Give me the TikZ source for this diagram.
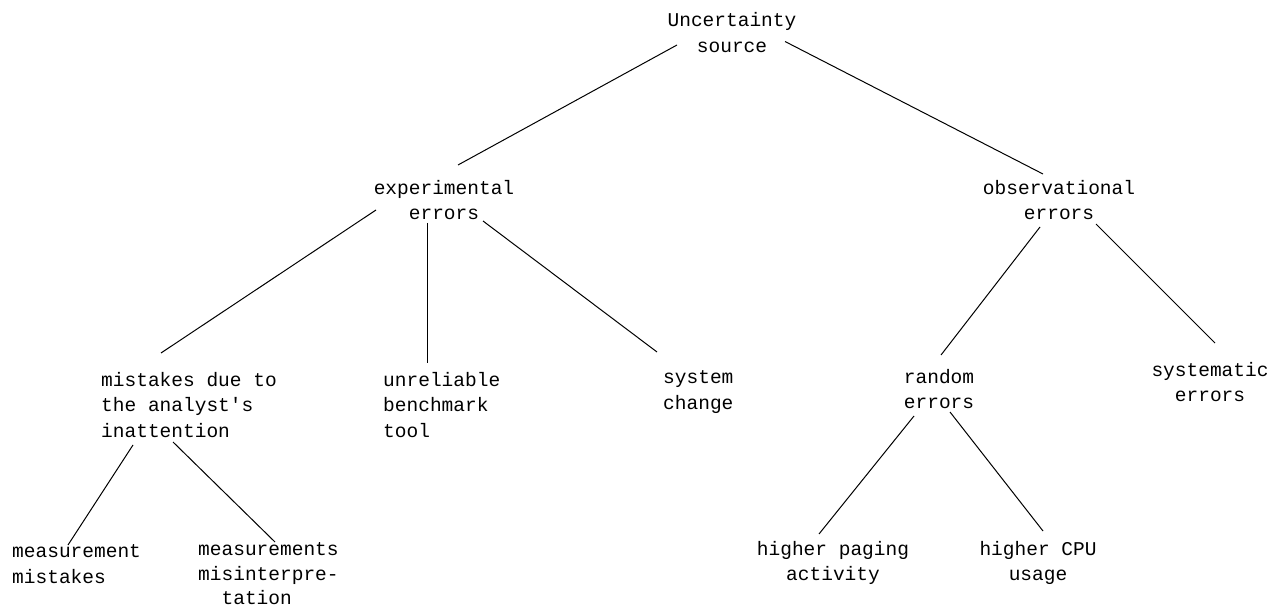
\documentclass[tikz,border=0pt]{standalone}
\usepackage{fontspec}
\setmainfont{Liberation Mono}
\usetikzlibrary{calc}
\begin{document}
\begin{tikzpicture}[x=1pt,y=-1pt,
  lbl/.style={inner sep=0pt, font=\fontsize{19.5}{25.5}\selectfont},
  lblc/.style={lbl, align=center, anchor=center},
  lbll/.style={lbl, align=left, anchor=west},
  edge/.style={draw=black, line width=1pt}]
\useasboundingbox (0,0) rectangle (1282,609);
\fill[white] (0,0) rectangle (1282,609);
% nodes
\node[lblc] (root) at (732,32.5) {Uncertainty\\source};
\node[lblc] (exp) at (444,200) {experimental\\errors};
\node[lblc] (obs) at (1059,200) {observational\\errors};
\node[lbll] (mis) at (101,405) {mistakes due to\\the analyst\textquotesingle s\\inattention};
\node[lbll] (unr) at (383,405) {unreliable\\benchmark\\tool};
\node[lbll] (sch) at (663,392) {system\\change};
\node[lblc] (rnd) at (939,389) {random\\errors};
\node[lblc] (sys) at (1210,382) {systematic\\errors};
\node[lbll] (mm) at (12,564) {measurement\\mistakes};
\node[lbll, font=\fontsize{19.5}{24.5}\selectfont] (ms) at (198,574) {measurements\\misinterpre-\\\phantom{mi}tation};
\node[lblc] (pag) at (833,563) {higher paging\\activity};
\node[lblc] (cpu) at (1038,563) {higher CPU\\usage};
% connectors
\draw[edge] ($(root)+(-55,12.5)$) -- ($(exp)+(14,-35)$);
\draw[edge] ($(root)+(53,9)$) -- ($(obs)+(-16,-26)$);
\draw[edge] ($(exp)+(-68,10)$) -- ($(mis.west)+(60,-52)$);
\draw[edge] ($(exp)+(-17,23)$) -- ($(unr.west)+(44,-42)$);
\draw[edge] ($(exp)+(39,21)$) -- ($(sch.west)+(-6,-40)$);
\draw[edge] ($(obs)+(-19,27)$) -- ($(rnd)+(2,-34)$);
\draw[edge] ($(obs)+(37,24)$) -- ($(sys)+(5,-39)$);
\draw[edge] ($(mis.west)+(32,40)$) -- ($(mm.west)+(56,-19)$);
\draw[edge] ($(mis.west)+(72,37)$) -- ($(ms.west)+(77,-32)$);
\draw[edge] ($(rnd)+(-25,27)$) -- ($(pag)+(-14,-29)$);
\draw[edge] ($(rnd)+(11,23)$) -- ($(cpu)+(5,-32)$);
\end{tikzpicture}
\end{document}
